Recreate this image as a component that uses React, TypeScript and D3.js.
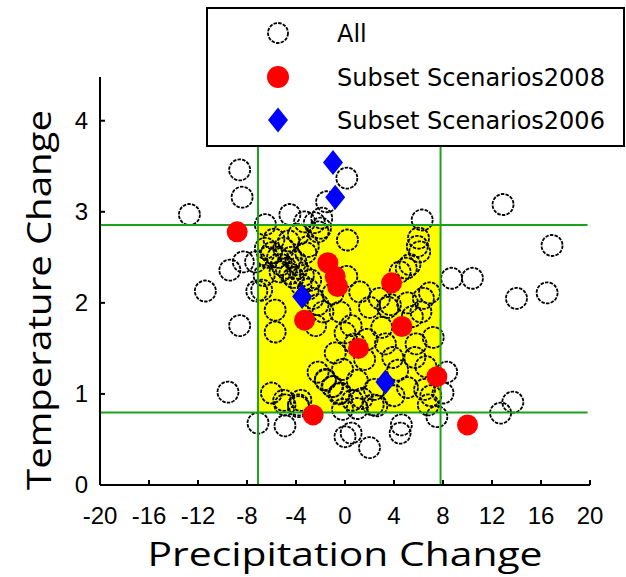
import React, { useEffect, useRef } from "react";
import * as d3 from "d3";

// precipitation change (x), temperature change (y)
const allX = [
  -8.6, -8.4, -12.7, -8.3, -9.4, -11.4, -7.3, -7.2, -8.6, -9.55,
  0.15, -1.5, -4.5, -3.3, -1.9, -2.5, -6.5, 6.3, 12.9, 16.9,
  16.5, 14.0, 10.4, 8.7, 8.3, 8.0, 7.5, 13.7, 12.7, -7.1,
  -4.9, -3.8, 0.0, 0.5, 2.0, 4.6, 4.5, -0.2, 1.0, 2.6,
  -6.5, -6.0, -5.5, -5.2, -4.8, -4.5, -4.2, -4.0, -3.6, -3.2,
  -3.0, -2.6, -2.2, -1.8, -5.8, -5.0, -4.6, -3.8, -6.8, -5.7,
  -5.7, -6.0, -5.0, -3.6, -2.2, -1.6, -1.0, -0.5, -0.8, 0.2,
  -1.0, -0.4, 0.5, 1.2, 2.0, 2.8, 3.5, 4.5, 5.0, 5.3,
  6.0, 5.9, 6.1, 6.9, 6.4, 5.1, 3.7, 0.15, 5.7, 4.3,
  5.1, 1.6, 1.0, 0.6, 2.3, 6.8, 6.5, 3.0, 1.8, -2.4,
  0.0, -1.6, -1.06, -0.4, -3.8, -4.9, -2.2, -6.3, -5.3, -4.4,
  -3.9, -3.4, -2.8, -2.0, 3.3, 4.0, 5.5, 6.6, 7.2, 2.4,
  -0.2, 1.4, 0.8, 3.9, 5.8, 7.0, 6.2, -6.6, -3.0
];
const allY = [
  3.46, 3.16, 2.97, 2.45, 2.36, 2.13, 2.45, 2.13, 1.75, 1.02,
  3.37, 3.11, 2.97, 2.89, 2.93, 2.88, 2.86, 2.91, 3.08, 2.63,
  2.11, 2.05, 2.27, 2.27, 1.24, 1.01, 0.75, 0.91, 0.79, 0.68,
  0.65, 0.86, 0.53, 0.57, 0.41, 0.66, 0.57, 0.83, 0.84, 0.87,
  2.6, 2.55, 2.5, 2.42, 2.38, 2.32, 2.28, 2.45, 2.2, 2.55,
  2.15, 2.05, 1.98, 1.9, 2.7, 2.6, 2.68, 2.75, 2.14, 1.92,
  1.68, 1.01, 0.93, 0.93, 1.24, 1.16, 1.08, 1.0, 1.45, 2.69,
  2.1, 1.9, 1.75, 2.12, 1.95, 2.05, 1.95, 2.34, 2.38, 2.42,
  2.71, 2.62, 2.56, 2.11, 2.05, 2.0, 1.98, 2.29, 1.4, 1.26,
  1.07, 1.38, 1.15, 0.93, 0.88, 0.88, 1.05, 1.73, 1.6, 1.75,
  1.67, 1.15, 1.08, 1.01, 0.88, 0.88, 2.78, 2.5, 2.34, 2.5,
  2.38, 2.3, 2.25, 2.82, 1.55, 0.98, 1.85, 1.3, 1.62, 1.05,
  1.27, 0.95, 1.55, 1.4, 1.55, 0.98, 1.9, 2.3, 2.62
];

const sub2008X = [-8.8, -1.4, -0.8, -0.6, 3.8, -3.3, 4.65, 1.1, 7.5, -2.6, 10.0];
const sub2008Y = [2.78, 2.44, 2.29, 2.18, 2.22, 1.81, 1.74, 1.5, 1.19, 0.77, 0.66];

const sub2006X = [-0.98, -0.8, -3.5, 3.3];
const sub2006Y = [3.54, 3.16, 2.07, 1.13];

const xTicks = [-20, -16, -12, -8, -4, 0, 4, 8, 12, 16, 20];
const yTicks = [0, 1, 2, 3, 4];

// target window bounds
const boxX = [-7.1, 7.8];
const boxY = [0.795, 2.854];

const legendLabels = ["All", "Subset Scenarios2008", "Subset Scenarios2006"];

const App = () => {
  const ref = useRef<SVGSVGElement>(null);
  useEffect(() => {
    const WIDTH = 626;
    const HEIGHT = 577;
    const x = d3.scaleLinear().domain([-20, 20]).range([100, 590]);
    const y = d3.scaleLinear().domain([0, 4.48]).range([485, 77]);
    const tickFont = "'Liberation Sans', Arial, sans-serif";
    const titleFont = "'Open Sans', sans-serif";

    const svg = d3.select(ref.current).attr("width", WIDTH).attr("height", HEIGHT);
    svg.selectAll("*").remove();

    /* yellow window */
    svg
      .append("rect")
      .attr("x", x(boxX[0]))
      .attr("y", y(boxY[1]))
      .attr("width", x(boxX[1]) - x(boxX[0]))
      .attr("height", y(boxY[0]) - y(boxY[1]))
      .attr("fill", "#ffff00");

    /* open circles */
    svg
      .append("g")
      .selectAll("circle")
      .data(d3.range(allX.length))
      .join("circle")
      .attr("cx", (i) => x(allX[i]))
      .attr("cy", (i) => y(allY[i]))
      .attr("r", 10.5)
      .attr("fill", "none")
      .attr("stroke", "#000")
      .attr("stroke-width", 1.8)
      .attr("stroke-dasharray", "3.5 1.2");

    /* green lines */
    const green = svg.append("g").attr("stroke", "#1aa31a").attr("stroke-width", 2);
    boxY.forEach((v) => {
      green
        .append("line")
        .attr("x1", x(-20))
        .attr("x2", x(19.8))
        .attr("y1", y(v))
        .attr("y2", y(v));
    });
    boxX.forEach((v) => {
      green
        .append("line")
        .attr("x1", x(v))
        .attr("x2", x(v))
        .attr("y1", y(0))
        .attr("y2", y(4.48));
    });

    /* 2008 subset */
    svg
      .append("g")
      .selectAll("circle")
      .data(d3.range(sub2008X.length))
      .join("circle")
      .attr("cx", (i) => x(sub2008X[i]))
      .attr("cy", (i) => y(sub2008Y[i]))
      .attr("r", 10.5)
      .attr("fill", "#ff0000");

    /* 2006 subset */
    const diamond = "M0,-12.5L10,0L0,12.5L-10,0Z";
    svg
      .append("g")
      .selectAll("path")
      .data(d3.range(sub2006X.length))
      .join("path")
      .attr("d", diamond)
      .attr("transform", (i) => `translate(${x(sub2006X[i])},${y(sub2006Y[i])})`)
      .attr("fill", "#0000ff");

    /* axes */
    const axis = svg.append("g").attr("stroke", "#000").attr("stroke-width", 2);
    axis.append("line").attr("x1", x(-20)).attr("x2", x(20)).attr("y1", y(0)).attr("y2", y(0));
    axis.append("line").attr("x1", x(-20)).attr("x2", x(-20)).attr("y1", y(0)).attr("y2", y(4.48));
    xTicks.forEach((t) => {
      axis.append("line").attr("x1", x(t)).attr("x2", x(t)).attr("y1", y(0)).attr("y2", y(0) - 5);
    });
    yTicks.forEach((t) => {
      axis.append("line").attr("x1", x(-20)).attr("x2", x(-20) + 5).attr("y1", y(t)).attr("y2", y(t));
    });

    svg
      .append("g")
      .selectAll("text")
      .data(xTicks)
      .join("text")
      .attr("x", (d) => x(d))
      .attr("y", 524)
      .attr("text-anchor", "middle")
      .attr("font-family", tickFont)
      .attr("font-size", 24)
      .text((d) => d);

    svg
      .append("g")
      .selectAll("text")
      .data(yTicks)
      .join("text")
      .attr("x", 88)
      .attr("y", (d) => y(d) + 8)
      .attr("text-anchor", "end")
      .attr("font-family", tickFont)
      .attr("font-size", 24)
      .text((d) => d);

    /* titles */
    svg
      .append("text")
      .attr("x", 345)
      .attr("y", 566)
      .attr("text-anchor", "middle")
      .attr("font-family", titleFont)
      .attr("font-size", 33)
      .attr("textLength", 395)
      .attr("lengthAdjust", "spacingAndGlyphs")
      .text("Precipitation Change");
    svg
      .append("text")
      .attr("transform", "translate(51,300) rotate(-90)")
      .attr("text-anchor", "middle")
      .attr("font-family", titleFont)
      .attr("font-size", 33)
      .attr("textLength", 380)
      .attr("lengthAdjust", "spacingAndGlyphs")
      .text("Temperature Change");

    /* legend */
    const lg = svg.append("g");
    lg.append("rect")
      .attr("x", 207)
      .attr("y", 8)
      .attr("width", 417)
      .attr("height", 138)
      .attr("fill", "#fff")
      .attr("stroke", "#000")
      .attr("stroke-width", 2);
    const rows = [33, 77, 120];
    lg.append("circle")
      .attr("cx", 278)
      .attr("cy", rows[0])
      .attr("r", 10)
      .attr("fill", "none")
      .attr("stroke", "#000")
      .attr("stroke-width", 1.8)
      .attr("stroke-dasharray", "3.5 1.2");
    lg.append("circle").attr("cx", 278).attr("cy", rows[1]).attr("r", 11).attr("fill", "#ff0000");
    lg.append("path")
      .attr("d", diamond)
      .attr("transform", `translate(278,${rows[2]})`)
      .attr("fill", "#0000ff");
    legendLabels.forEach((l, i) => {
      lg.append("text")
        .attr("x", 337)
        .attr("y", rows[i] + 9)
        .attr("font-family", "'DejaVu Sans', sans-serif")
        .attr("font-size", 24)
        .text(l);
    });
  }, []);

  return (
    <svg ref={ref} style={{ position: "absolute", left: 0, top: 0, background: "#fff" }} />
  );
};

export default App;
